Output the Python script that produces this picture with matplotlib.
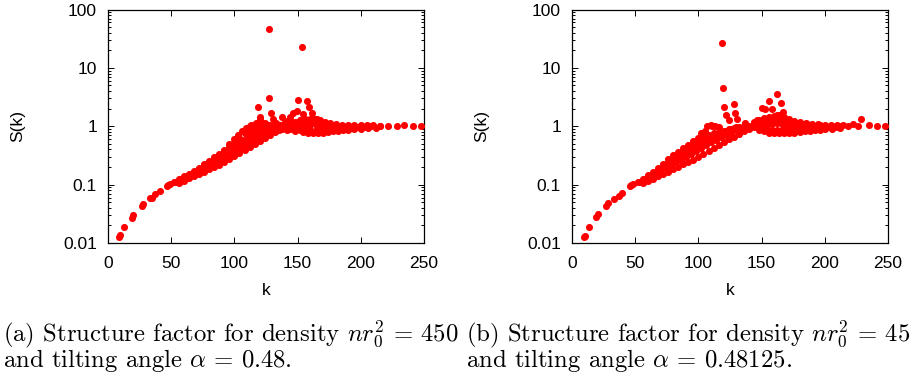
import matplotlib
matplotlib.use("Agg")
import matplotlib.pyplot as plt
from matplotlib.ticker import LogLocator, NullFormatter, FixedLocator, FixedFormatter

plt.rcParams['mathtext.fontset'] = 'cm'

# ---- panel (a): alpha = 0.48 ----
a_k_low = [8.9, 9.5, 12.9, 18.7, 20.0, 26.6, 27.9, 33.2, 34.5, 37.2, 41.1, 46.4, 47.5, 49.0]
a_s_low = [0.0129, 0.0135, 0.019, 0.027, 0.030, 0.043, 0.047, 0.058, 0.060, 0.069, 0.078, 0.093, 0.097, 0.102]

a_k_up = [52, 56, 60, 64, 68, 72, 76, 80, 84, 88, 92, 96, 100, 103, 106, 109, 112, 115, 118, 121]
a_s_up = [0.112, 0.123, 0.138, 0.155, 0.174, 0.195, 0.224, 0.251, 0.295, 0.339, 0.398, 0.49,
          0.60, 0.71, 0.83, 0.95, 1.0, 0.98, 1.0, 0.95]

a_k_mid = [54, 58, 62, 66, 70, 74, 78, 82, 86, 90, 94, 98, 102, 106, 110, 114, 118, 122, 126]
a_s_mid = [0.110, 0.123, 0.135, 0.151, 0.166, 0.186, 0.209, 0.240, 0.269, 0.309, 0.355, 0.417,
           0.49, 0.575, 0.676, 0.79, 0.87, 0.91, 0.89]

a_k_lo = [56, 60, 64, 68, 72, 76, 80, 84, 88, 92, 96, 100, 104, 108, 112, 116, 120, 124, 128,
          132, 135, 138, 105, 112, 118, 124, 130, 116]
a_s_lo = [0.107, 0.117, 0.129, 0.138, 0.151, 0.166, 0.182, 0.20, 0.219, 0.245, 0.275, 0.309,
          0.347, 0.389, 0.437, 0.49, 0.55, 0.63, 0.71, 0.79, 0.85, 0.89, 0.447, 0.56, 0.66,
          0.76, 0.83, 0.89]

a_k_fill = [62, 66, 70, 74, 78, 82, 86, 90, 94, 98, 102, 106, 110, 114, 118, 122, 126, 130, 134,
            64, 68, 72, 76, 80, 84, 88, 92, 96, 100, 104, 108, 112, 116, 120, 124, 128, 132,
            98, 102, 106, 110, 114, 118, 122, 126, 130, 136, 140]
a_s_fill = [0.132, 0.145, 0.158, 0.174, 0.20, 0.219, 0.251, 0.275, 0.316, 0.363, 0.417, 0.479,
            0.55, 0.631, 0.708, 0.759, 0.813, 0.871, 0.933,
            0.148, 0.166, 0.186, 0.214, 0.240, 0.275, 0.316, 0.372, 0.437, 0.525, 0.631, 0.759,
            0.871, 0.933, 0.891, 0.955, 1.0, 1.0,
            0.339, 0.38, 0.427, 0.479, 0.537, 0.603, 0.676, 0.741, 0.813, 0.933, 0.933]

a_k_top = [113, 117, 121, 124, 127, 130, 133, 136, 139]
a_s_top = [1.07, 1.15, 1.20, 1.12, 1.05, 1.07, 1.12, 1.05, 1.0]

a_k_plat = [140, 144, 148, 152, 156, 160, 164, 168, 172, 176, 180, 185, 190, 195, 200, 205, 210,
            140, 145, 150, 155, 160, 165, 170, 175, 180, 185, 190, 195, 200, 208, 215,
            142, 148, 154, 158, 162, 166, 170, 174, 178, 182, 186, 190, 195, 200, 206, 212,
            142, 146, 150, 154, 158, 162, 166, 170, 174, 178, 182, 186, 190,
            144, 148, 152, 156, 160, 164, 168, 172, 176, 180, 184, 188, 192, 198, 204,
            215.2, 221.8, 228.4, 234.4, 241.1, 247.6]
a_s_plat = [1.20, 1.26, 1.20, 1.26, 1.32, 1.35, 1.32, 1.23, 1.175, 1.12, 1.10, 1.07, 1.06, 1.047, 1.047, 1.035, 1.035,
            1.0, 1.02, 0.977, 1.0, 1.047, 1.0, 0.955, 0.977, 0.955, 0.977, 0.977, 0.99, 1.0, 1.0, 1.0,
            0.851, 0.813, 0.794, 0.776, 0.759, 0.759, 0.776, 0.794, 0.813, 0.832, 0.851, 0.871, 0.891, 0.902, 0.923, 0.933,
            1.096, 1.122, 1.148, 1.175, 1.202, 1.175, 1.122, 1.072, 1.047, 1.023, 1.023, 1.023, 1.01,
            0.912, 0.891, 0.871, 0.851, 0.851, 0.832, 0.851, 0.871, 0.871, 0.891, 0.912, 0.912, 0.933, 0.955, 0.966,
            1.0, 1.0, 1.01, 1.04, 1.01, 1.01]

a_k_spk = [127.4, 153.5, 127.6, 118.9, 129, 120.3, 120.3, 130.8, 137.4, 150, 157.7, 159, 149.3,
           146.6, 144, 154.5, 161.2, 162, 165, 168, 141.5]
a_s_spk = [46, 23, 3.1, 2.17, 1.7, 1.46, 1.32, 1.32, 1.43, 2.8, 2.7, 2.1, 1.86,
           1.66, 1.46, 1.62, 1.66, 1.35, 1.35, 1.26, 1.23]

# ---- panel (b): alpha = 0.48125 ----
b_k_low = [9.5, 10.2, 13.4, 18.7, 20.8, 26.6, 28.7, 33.5, 37.4, 39.3, 45.9, 47.0, 48.5]
b_s_low = [0.0126, 0.0132, 0.019, 0.0275, 0.032, 0.043, 0.048, 0.056, 0.065, 0.071, 0.093, 0.097, 0.102]

b_k_up = [52, 56, 60, 64, 68, 72, 76, 80, 84, 88, 92, 96, 100, 104, 107, 110, 113, 116, 102, 105]
b_s_up = [0.110, 0.126, 0.145, 0.166, 0.195, 0.229, 0.275, 0.316, 0.363, 0.417, 0.479, 0.550,
          0.631, 0.724, 1.0, 1.047, 1.023, 0.977, 0.759, 0.832]

b_k_mid = [54, 58, 62, 66, 70, 74, 78, 82, 86, 90, 94, 98, 102, 106, 110, 114, 118, 122, 126, 130]
b_s_mid = [0.112, 0.126, 0.141, 0.158, 0.178, 0.204, 0.234, 0.263, 0.302, 0.339, 0.389, 0.437,
           0.501, 0.575, 0.661, 0.708, 0.759, 0.832, 0.891, 0.955]

b_k_lo = [56, 60, 64, 68, 72, 76, 80, 84, 88, 92, 96, 100, 104, 108, 112, 116, 120, 124, 128,
          132, 136, 140, 144]
b_s_lo = [0.105, 0.115, 0.126, 0.138, 0.151, 0.166, 0.182, 0.20, 0.224, 0.245, 0.269, 0.302,
          0.339, 0.380, 0.427, 0.479, 0.537, 0.603, 0.661, 0.741, 0.813, 0.891, 0.955]

b_k_fill = [62, 66, 70, 74, 78, 82, 86, 90, 94, 98, 102, 106, 110, 114, 118, 122, 126, 130, 134, 138,
            64, 68, 72, 76, 80, 84, 88, 92, 96, 100, 104, 108, 112, 116, 120, 124, 128, 132, 136, 140]
b_s_fill = [0.135, 0.151, 0.170, 0.191, 0.214, 0.240, 0.269, 0.302, 0.339, 0.38, 0.427, 0.479,
            0.537, 0.589, 0.646, 0.708, 0.776, 0.851, 0.912, 0.955,
            0.151, 0.174, 0.204, 0.240, 0.275, 0.316, 0.363, 0.417, 0.49, 0.562, 0.631, 0.708,
            0.759, 0.794, 0.832, 0.891, 0.933, 0.977, 1.0, 1.023]

b_k_plat = [144, 148, 152, 156, 160, 164, 168, 172, 176, 180, 185, 190, 195, 200, 205, 210,
            146, 150, 154, 158, 162, 166, 170, 174, 178, 182, 188, 194, 200, 206, 212,
            148, 152, 156, 160, 164, 168, 172, 176, 180, 184, 188, 192, 196, 200, 206, 212,
            146, 150, 154, 158, 162, 166, 170, 174, 178, 182, 186, 190, 196,
            150, 154, 158, 162, 166, 170, 174, 178, 182, 186, 190, 194, 198, 204, 210,
            214.7, 222.6, 228.6, 235.2, 241.0, 247.6, 218, 226]
b_s_plat = [1.148, 1.259, 1.38, 1.445, 1.514, 1.585, 1.445, 1.318, 1.23, 1.175, 1.122, 1.096, 1.072, 1.06, 1.047, 1.047,
            1.0, 1.047, 1.072, 1.096, 1.122, 1.072, 1.0, 0.977, 0.955, 0.977, 0.977, 1.0, 1.0, 1.0, 1.01,
            0.871, 0.813, 0.776, 0.759, 0.759, 0.759, 0.759, 0.776, 0.794, 0.813, 0.832, 0.851, 0.871, 0.891, 0.912, 0.933,
            1.096, 1.175, 1.23, 1.288, 1.318, 1.259, 1.202, 1.148, 1.122, 1.096, 1.072, 1.047, 1.035,
            0.912, 0.891, 0.871, 0.871, 0.851, 0.851, 0.871, 0.871, 0.891, 0.902, 0.912, 0.923, 0.933, 0.955, 0.966,
            1.05, 1.10, 1.32, 1.05, 1.02, 1.01, 1.0, 1.02]

b_k_spk = [118.6, 119.1, 120.3, 128.2, 129, 121.8, 124.4, 130.8, 136.9, 150, 156, 161.8, 165.7,
           152.7, 158, 154, 161.8, 167, 110.5, 146.5, 143.8]
b_s_spk = [27, 4.6, 2.1, 2.4, 1.66, 1.55, 1.29, 1.32, 1.12, 2.04, 2.7, 3.55, 2.5,
           1.95, 1.95, 1.26, 1.55, 1.78, 1.01, 1.29, 1.17]

panel_a = [(a_k_low, a_s_low), (a_k_up, a_s_up), (a_k_mid, a_s_mid), (a_k_lo, a_s_lo),
           (a_k_fill, a_s_fill), (a_k_top, a_s_top), (a_k_plat, a_s_plat), (a_k_spk, a_s_spk)]
panel_b = [(b_k_low, b_s_low), (b_k_up, b_s_up), (b_k_mid, b_s_mid), (b_k_lo, b_s_lo),
           (b_k_fill, b_s_fill), (b_k_plat, b_s_plat), (b_k_spk, b_s_spk)]

x_ticks = [0, 50, 100, 150, 200, 250]
y_ticks = [0.01, 0.1, 1, 10, 100]
y_labels = ["0.01", "0.1", "1", "10", "100"]

fig = plt.figure(figsize=(9.12, 3.81), dpi=100)
W, H = 912.0, 381.0


def draw_panel(left_px, groups):
    ax = fig.add_axes([left_px / W, 1 - 243 / H, 316 / W, 233.5 / H])
    for ks, ss in groups:
        ax.scatter(ks, ss, s=26, c='#ff0000', linewidths=0, zorder=3)
    ax.set_yscale('log')
    ax.set_xlim(0, 250)
    ax.set_ylim(0.01, 100)
    ax.xaxis.set_major_locator(FixedLocator(x_ticks))
    ax.yaxis.set_major_locator(FixedLocator(y_ticks))
    ax.yaxis.set_major_formatter(FixedFormatter(y_labels))
    ax.yaxis.set_minor_locator(LogLocator(base=10, subs=range(2, 10)))
    ax.yaxis.set_minor_formatter(NullFormatter())
    ax.tick_params(which='both', direction='in', top=True, right=True, width=0.7,
                   labelsize=12.5, colors='black')
    ax.tick_params(which='major', length=4)
    ax.tick_params(which='minor', length=2)
    ax.tick_params(axis='x', pad=9)
    ax.tick_params(axis='y', pad=8)
    for lab in ax.get_xticklabels() + ax.get_yticklabels():
        lab.set_family('Liberation Sans')
    for sp in ax.spines.values():
        sp.set_linewidth(0.9)
    ax.set_xlabel('k', fontsize=12.5, family='Liberation Sans')
    ax.set_ylabel('S(k)', fontsize=12.5, family='Liberation Sans')
    ax.xaxis.set_label_coords(0.5, -0.17)
    ax.yaxis.set_label_coords(-0.263, 0.5)
    return ax


draw_panel(108, panel_a)
draw_panel(572, panel_b)

cap = dict(fontsize=17.8, family='cmr10', ha='left', va='baseline')
fig.text(3 / W, 1 - 341 / H, r'(a) Structure factor for density $nr_0^2$ = 450', **cap)
fig.text(3 / W, 1 - 367 / H, r'and tilting angle $\alpha$ = 0.48.', **cap)
fig.text(466 / W, 1 - 341 / H, r'(b) Structure factor for density $nr_0^2$ = 450', **cap)
fig.text(466 / W, 1 - 367 / H, r'and tilting angle $\alpha$ = 0.48125.', **cap)

fig.savefig('out.png', dpi=100)
